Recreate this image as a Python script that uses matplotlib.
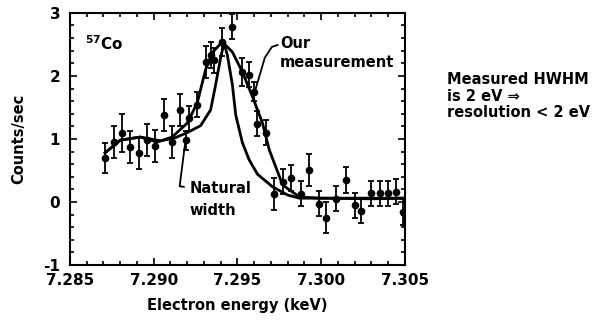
import matplotlib
matplotlib.use('Agg')
import matplotlib.pyplot as plt
from matplotlib.ticker import MultipleLocator

plt.rcParams['font.family'] = ['DejaVu Sans']
plt.rcParams['font.weight'] = 'bold'
plt.rcParams['axes.unicode_minus'] = False

# data points (keV, counts/sec, error)
pt_x = [7.2871, 7.2876, 7.2881, 7.2886, 7.2891, 7.2896, 7.2901, 7.2906, 7.2911, 7.2916,
        7.2919, 7.2921, 7.2926, 7.2931, 7.2934, 7.2936, 7.2941, 7.2947, 7.2953, 7.2957,
        7.2960, 7.2962, 7.2967, 7.2972, 7.2977, 7.2982, 7.2988, 7.2993, 7.2999, 7.3003,
        7.3009, 7.3015, 7.3020, 7.3024, 7.3030, 7.3035, 7.3040, 7.3045, 7.3049]
pt_y = [0.70, 0.95, 1.10, 0.87, 0.78, 0.98, 0.89, 1.38, 0.95, 1.46,
        0.98, 1.33, 1.54, 2.22, 2.33, 2.25, 2.54, 2.78, 2.06, 2.02,
        1.75, 1.24, 1.10, 0.13, 0.32, 0.38, 0.13, 0.51, -0.03, -0.25,
        0.05, 0.35, -0.05, -0.14, 0.14, 0.14, 0.14, 0.16, -0.16]
pt_err = [0.24, 0.25, 0.30, 0.25, 0.25, 0.25, 0.25, 0.25, 0.25, 0.25,
          0.15, 0.20, 0.20, 0.25, 0.20, 0.20, 0.22, 0.20, 0.22, 0.20,
          0.15, 0.20, 0.20, 0.25, 0.20, 0.20, 0.20, 0.25, 0.20, 0.25,
          0.20, 0.20, 0.20, 0.20, 0.20, 0.20, 0.20, 0.20, 0.20]

# fitted curve ("Our measurement")
meas_x = [7.2871, 7.2880, 7.2892, 7.2902, 7.2911, 7.2920, 7.2926, 7.2931, 7.2935, 7.2941,
          7.2947, 7.2953, 7.2959, 7.2965, 7.2969, 7.2977, 7.2987, 7.2999, 7.3031, 7.3050]
meas_y = [0.78, 0.98, 1.03, 0.95, 1.03, 1.25, 1.57, 2.10, 2.37, 2.54,
          2.38, 2.06, 1.67, 1.25, 0.83, 0.27, 0.08, 0.06, 0.05, 0.06]

# natural line width curve
nat_x = [7.2871, 7.2880, 7.2892, 7.2904, 7.2913, 7.2920, 7.2928, 7.2934, 7.2937, 7.2940,
         7.2942, 7.2944, 7.2947, 7.2949, 7.2953, 7.2957, 7.2962, 7.2971, 7.2980, 7.2987, 7.3050]
nat_y = [0.78, 0.98, 1.03, 0.97, 1.02, 1.10, 1.21, 1.46, 1.86, 2.29,
         2.52, 2.33, 1.86, 1.38, 0.94, 0.67, 0.44, 0.24, 0.11, 0.06, 0.06]

# leader lines for the two curve labels
lead_meas_x = [7.29604, 7.29664, 7.29706, 7.29740]
lead_meas_y = [1.75, 2.29, 2.46, 2.49]
lead_nat_x = [7.29190, 7.29155, 7.29180]
lead_nat_y = [0.98, 0.25, 0.24]

fig = plt.figure(figsize=(6.06, 3.30), dpi=100)
ax = fig.add_axes([0.1155, 0.197, 0.5525, 0.764])

ax.plot(meas_x, meas_y, color='black', lw=2.0)
ax.plot(nat_x, nat_y, color='black', lw=2.0)
ax.errorbar(pt_x, pt_y, yerr=pt_err, fmt='o', color='black', ms=4.5,
            elinewidth=1.3, capsize=2.5, capthick=1.3)

ax.set_xlim(7.285, 7.305)
ax.set_ylim(-1, 3)
ax.xaxis.set_minor_locator(MultipleLocator(0.001))
ax.yaxis.set_major_locator(MultipleLocator(1))
ax.yaxis.set_minor_locator(MultipleLocator(0.2))
ax.set_xticks([7.285, 7.290, 7.295, 7.300, 7.305])
ax.set_xticklabels(['7.285', '7.290', '7.295', '7.300', '7.305'])
ax.tick_params(which='both', direction='in', top=True, right=True, width=1.2,
               labelsize=11)
ax.tick_params(axis='x', pad=6)
ax.tick_params(axis='y', pad=7)
ax.tick_params(which='major', length=5)
ax.tick_params(which='minor', length=3)
for lab in ax.get_xticklabels() + ax.get_yticklabels():
    lab.set_fontweight('bold')
for s in ax.spines.values():
    s.set_linewidth(1.5)

ax.set_xlabel('Electron energy (keV)', fontsize=10.5, fontweight='bold', labelpad=7)
ax.set_ylabel('Counts/sec', fontsize=10.5, fontweight='bold', labelpad=12)

ax.text(0.045, 0.877, '$\\mathbf{^{57}}$Co', transform=ax.transAxes, fontsize=11,
        fontweight='bold', va='center')

ax.text(7.29754, 2.52, 'Our', fontsize=10.5, fontweight='bold', va='center', ha='left')
ax.text(7.29754, 2.22, 'measurement', fontsize=10.5, fontweight='bold',
        va='center', ha='left')
ax.plot(lead_meas_x, lead_meas_y, color='black', lw=1.3)

ax.text(7.29216, 0.21, 'Natural', fontsize=10.5, fontweight='bold', va='center', ha='left')
ax.text(7.29216, -0.14, 'width', fontsize=10.5, fontweight='bold', va='center', ha='left')
ax.plot(lead_nat_x, lead_nat_y, color='black', lw=1.3)

fig.text(0.7376, 0.709, 'Measured HWHM\nis 2 eV \u21d2\nresolution < 2 eV',
         fontsize=10.5, fontweight='bold', va='center', ha='left', linespacing=1.15)

fig.savefig('out.png', dpi=100)
